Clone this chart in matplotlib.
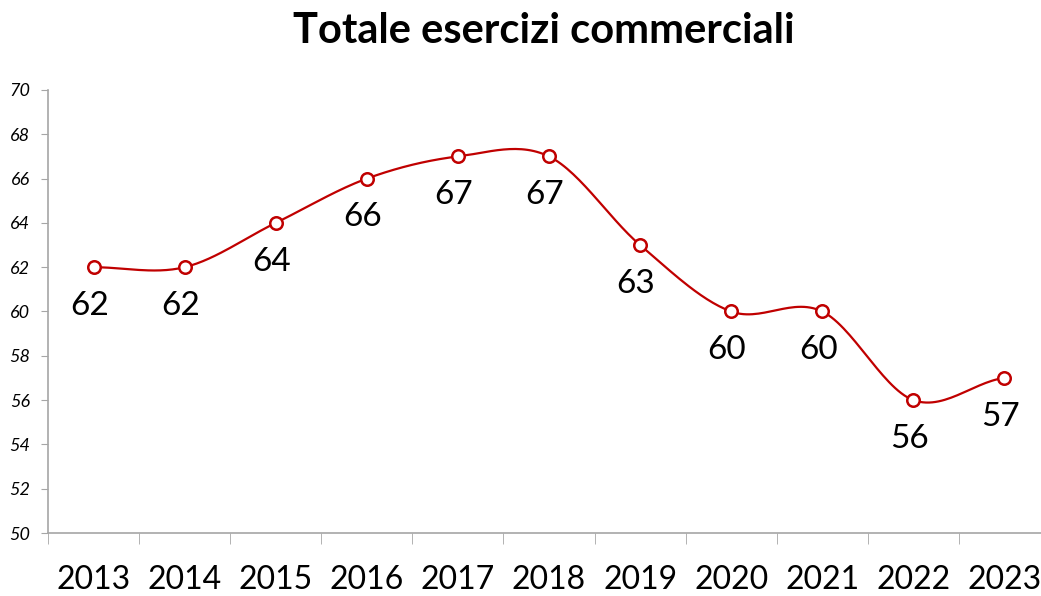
import numpy as np
import matplotlib.pyplot as plt

years = ['2013', '2014', '2015', '2016', '2017', '2018', '2019', '2020', '2021', '2022', '2023']
totals = [62, 62, 64, 66, 67, 67, 63, 60, 60, 56, 57]

line_color = '#C00000'
axis_color = '#A6A6A6'
font = 'Lato'


def smooth(x, y, steps=30):
    # Catmull-Rom style smoothing, like the spreadsheet's "smoothed line"
    x = np.asarray(x, float)
    y = np.asarray(y, float)
    n = len(y)
    xs, ys = [], []
    for i in range(n - 1):
        y0 = y[i - 1] if i > 0 else y[i]
        y3 = y[i + 2] if i + 2 < n else y[i + 1]
        m1 = (y[i + 1] - y0) / 2
        m2 = (y3 - y[i]) / 2
        t = np.linspace(0, 1, steps, endpoint=(i == n - 2))
        h00 = 2 * t**3 - 3 * t**2 + 1
        h10 = t**3 - 2 * t**2 + t
        h01 = -2 * t**3 + 3 * t**2
        h11 = t**3 - t**2
        xs.append(x[i] + t * (x[i + 1] - x[i]))
        ys.append(h00 * y[i] + h10 * m1 + h01 * y[i + 1] + h11 * m2)
    return np.concatenate(xs), np.concatenate(ys)


fig = plt.figure(figsize=(10.41, 5.96), dpi=100)
ax = fig.add_axes([48 / 1041, 1 - 533 / 596, 1002 / 1041, 443 / 596])

pos = np.arange(len(years))
sx, sy = smooth(pos, totals)
ax.plot(sx, sy, color=line_color, linewidth=1.6, zorder=2)
ax.plot(pos, totals, linestyle='none', marker='o', markersize=9,
        markerfacecolor='white', markeredgecolor=line_color, markeredgewidth=1.8, zorder=3)

for xp, v in zip(pos, totals):
    ax.annotate(str(v), (xp, v), xytext=(-3, -28), textcoords='offset points',
                ha='center', va='center', fontsize=24, family=font, color='black')

ax.set_xlim(-0.5, len(years) - 0.5)
ax.set_ylim(50, 70)
ax.set_yticks(range(50, 71, 2))
ax.set_yticklabels([str(v) for v in range(50, 71, 2)], fontsize=13, style='italic', family=font)

ax.set_xticks(pos)
ax.set_xticklabels(years, fontsize=23, family=font)
ax.set_xticks(np.arange(-0.5, len(years), 1), minor=True)
ax.tick_params(axis='x', which='major', length=0, pad=23)
ax.tick_params(axis='x', which='minor', length=8, color=axis_color, direction='out')
ax.tick_params(axis='y', length=5, color=axis_color, pad=8)

for side in ['top', 'right']:
    ax.spines[side].set_visible(False)
for side in ['left', 'bottom']:
    ax.spines[side].set_color(axis_color)
    ax.spines[side].set_linewidth(1.2)

fig.text(0.522, 1 - 31 / 596, 'Totale esercizi commerciali', ha='center', va='center',
         fontsize=30, fontweight='bold', family=font)

fig.savefig('out.png', dpi=100)
